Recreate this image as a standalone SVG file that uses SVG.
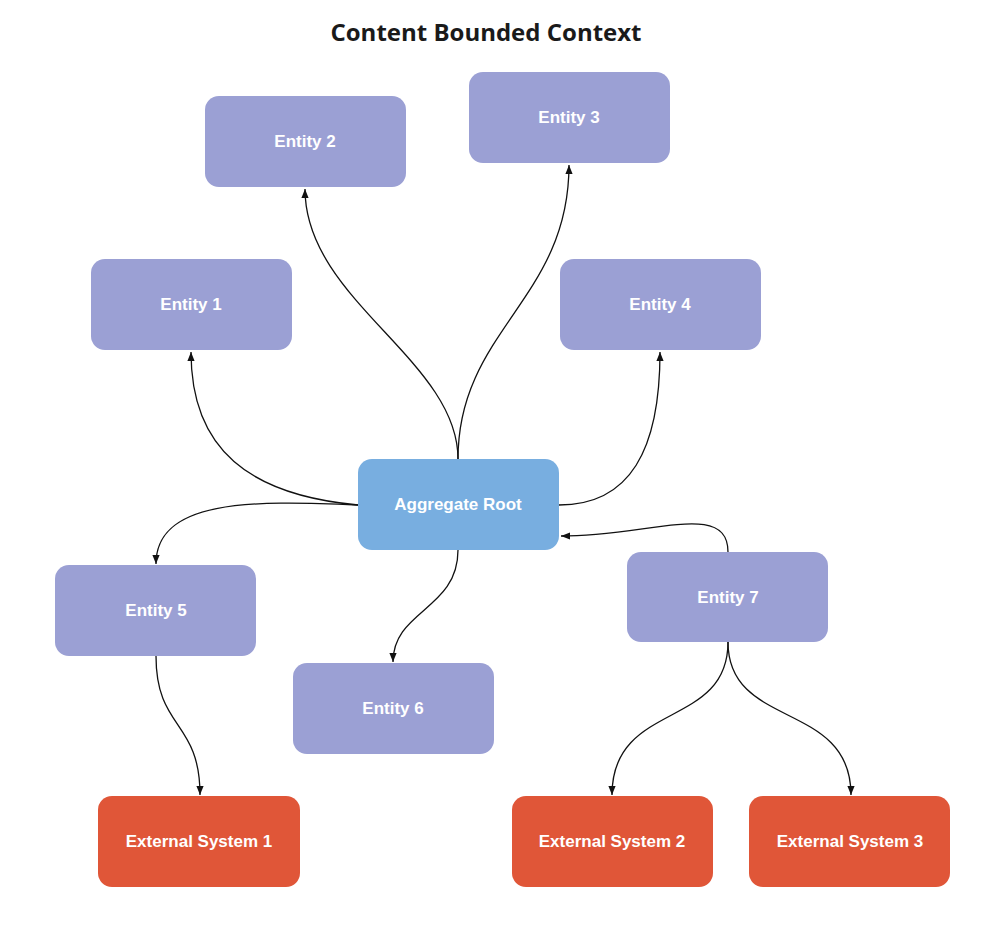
<svg xmlns="http://www.w3.org/2000/svg" width="995" height="930" viewBox="0 0 995 930">
<style>
.n rect{rx:14;ry:14}
.p{fill:#9ba0d4}.r{fill:#e05638}.b{fill:#78aee0}
.t{fill:#fff;font-family:"Liberation Sans",Arial,sans-serif;font-weight:bold;font-size:17px;text-anchor:middle;dominant-baseline:central}
.c path{fill:none;stroke:#111;stroke-width:1.3;marker-end:url(#a)}
</style>
<defs><marker id="a" viewBox="0 0 10 10" refX="10" refY="5" markerWidth="9" markerHeight="9" markerUnits="userSpaceOnUse" orient="auto"><path d="M0,1 L10,5 L0,9 Z" fill="#111"/></marker></defs>
<rect width="995" height="930" fill="#fff"/>
<text x="486" y="31" font-family="'Open Sans','Liberation Sans',sans-serif" font-weight="bold" font-size="24" fill="#1a1a1a" text-anchor="middle" dominant-baseline="central">Content Bounded Context</text>
<g class="c">
<path d="M458,459 C458,360 305,300 305,189"/>
<path d="M458,459 C458,330 569,300 569,165"/>
<path d="M358,505 C250,495 191,450 191,352"/>
<path d="M559,505 C630,505 660,450 660,352"/>
<path d="M358,505 C250,500 156,500 156,564"/>
<path d="M458,550 C458,610 393,610 393,662"/>
<path d="M728,552 C728,500 650,536 561,536"/>
<path d="M156,656 C156,730 200,720 200,795"/>
<path d="M728,642 C728,730 612,700 612,795"/>
<path d="M728,642 C728,730 851,700 851,795"/>
</g>
<g id="entity2" class="n"><rect class="p" x="205" y="96" width="201" height="91"/><text class="t" x="305" y="141">Entity 2</text></g>
<g id="entity3" class="n"><rect class="p" x="469" y="72" width="201" height="91"/><text class="t" x="569" y="117">Entity 3</text></g>
<g id="entity1" class="n"><rect class="p" x="91" y="259" width="201" height="91"/><text class="t" x="191" y="304">Entity 1</text></g>
<g id="entity4" class="n"><rect class="p" x="560" y="259" width="201" height="91"/><text class="t" x="660" y="304">Entity 4</text></g>
<g id="root" class="n"><rect class="b" x="358" y="459" width="201" height="91"/><text class="t" x="458" y="504">Aggregate Root</text></g>
<g id="entity5" class="n"><rect class="p" x="55" y="565" width="201" height="91"/><text class="t" x="156" y="610">Entity 5</text></g>
<g id="entity7" class="n"><rect class="p" x="627" y="552" width="201" height="90"/><text class="t" x="728" y="597">Entity 7</text></g>
<g id="entity6" class="n"><rect class="p" x="293" y="663" width="201" height="91"/><text class="t" x="393" y="708">Entity 6</text></g>
<g id="ext1" class="n"><rect class="r" x="98" y="796" width="202" height="91"/><text class="t" x="199" y="841">External System 1</text></g>
<g id="ext2" class="n"><rect class="r" x="512" y="796" width="201" height="91"/><text class="t" x="612" y="841">External System 2</text></g>
<g id="ext3" class="n"><rect class="r" x="749" y="796" width="201" height="91"/><text class="t" x="850" y="841">External System 3</text></g>
</svg>
